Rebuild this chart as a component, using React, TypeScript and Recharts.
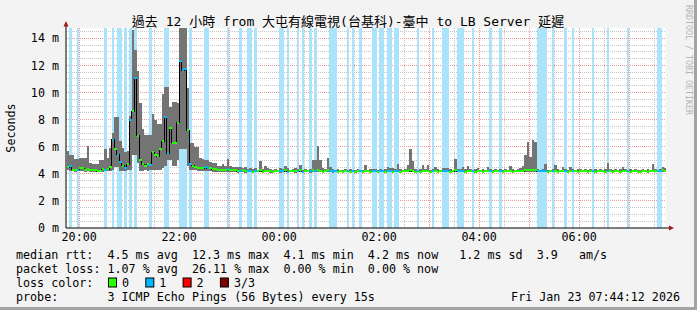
import { ComposedChart, Area, XAxis, YAxis, CartesianGrid } from 'recharts'

// SmokePing latency graph, 12h window, data in 3-minute bins starting 19:45
// one line per hour (20 bins)
const binMinutes = 3
const firstBinTime = '19:45'
const windowStartMin = -0.8 // graph starts at 19:44:12
const windowEndMin = 719.2

const timeTicks = ['20:00', '22:00', '00:00', '02:00', '04:00', '06:00']
const yTicks = [0, 2, 4, 6, 8, 10, 12, 14]
const yTop = 14.76

// smoke top (slowest ping), ms
const maxMs = [
  5.7, 5.4, 5.4, 5.1, 5.1, 5.2, 5.2, 5.2, 6.05, 4.8, 4.7, 4.7, 4.7, 5.0, 5.0, 5.8, 5.2, 5.9, 7.0, 8.2,
  8.2, 6.4, 5.9, 5.6, 5.7, 8.3, 14.6, 13.1, 11.6, 9.2, 7.3, 6.9, 6.9, 6.9, 8.4, 8.0, 7.7, 7.7, 9.9, 10.4,
  10.4, 8.9, 9.3, 9.3, 9.2, 14.76, 14.76, 14.76, 10.3, 6.3, 6.3, 6.0, 6.0, 5.2, 5.1, 5.0, 5.0, 4.9, 4.8, 4.8,
  4.6, 4.6, 4.7, 4.6, 5.1, 4.6, 4.5, 4.48, 4.48, 4.48, 4.4, 4.48, 4.35, 4.4, 4.35, 4.45, 4.3, 4.94, 4.35, 4.6,
  4.4, 4.35, 4.3, 4.35, 4.3, 4.4, 4.35, 4.55, 4.4, 4.3, 4.35, 4.4, 4.35, 4.65, 4.3, 4.35, 4.3, 4.35, 5.0, 5.0,
  6.05, 5.0, 4.4, 4.35, 5.19, 4.53, 4.35, 4.3, 4.35, 4.3, 4.3, 4.35, 4.3, 4.35, 4.3, 4.3, 4.35, 4.3, 4.3, 4.65,
  4.3, 4.35, 4.35, 4.35, 4.3, 4.35, 4.3, 4.35, 4.5, 4.4, 4.4, 4.35, 4.72, 4.35, 4.3, 4.35, 4.65, 5.83, 4.97, 4.35,
  4.3, 4.35, 4.65, 4.35, 4.65, 4.3, 4.35, 4.5, 4.35, 4.3, 4.4, 4.4, 4.4, 4.35, 4.3, 5.1, 4.35, 4.35, 4.53, 4.35,
  4.6, 4.35, 4.3, 4.35, 4.4, 4.3, 4.35, 4.3, 4.53, 4.35, 4.3, 4.35, 4.3, 4.35, 4.3, 4.35, 4.3, 4.6, 4.35, 4.3,
  4.35, 4.4, 4.55, 5.39, 6.37, 5.22, 6.5, 6.37, 4.35, 4.3, 4.35, 4.72, 4.3, 4.3, 4.35, 4.65, 4.35, 4.3, 4.53, 4.35,
  4.3, 4.48, 4.35, 4.3, 4.35, 4.35, 4.3, 4.35, 4.3, 4.35, 4.3, 4.35, 4.3, 4.35, 4.3, 4.35, 4.82, 4.35, 4.3, 4.35,
  4.3, 4.35, 4.48, 4.35, 4.3, 4.35, 4.3, 4.35, 4.3, 4.3, 4.35, 4.3, 4.35, 4.3, 4.7, 4.35, 4.3, 4.35, 4.53, 4.4,
]

// smoke bottom (fastest ping), ms
const minMs = [
  4.25, 4.2, 4.2, 4.15, 4.2, 4.2, 4.2, 4.15, 4.2, 4.15, 4.15, 4.1, 4.1, 4.15, 4.15, 4.2, 4.2, 4.2, 4.3, 4.5,
  4.5, 4.2, 4.2, 4.2, 4.25, 4.3, 5.4, 5.4, 4.8, 4.2, 4.2, 4.25, 4.2, 4.25, 4.25, 4.3, 4.3, 4.3, 4.4, 4.6,
  5.0, 5.0, 4.6, 4.6, 5.0, 5.8, 5.8, 5.8, 4.6, 4.3, 4.3, 4.25, 4.2, 4.2, 4.2, 4.2, 4.2, 4.2, 4.15, 4.15,
  4.15, 4.15, 4.1, 4.15, 4.15, 4.1, 4.1, 4.1, 4.05, 4.1, 4.1, 4.05, 4.1, 4.1, 4.05, 4.1, 4.1, 4.1, 4.05, 4.1,
  4.1, 4.05, 4.05, 4.1, 4.1, 4.05, 4.1, 4.1, 4.05, 4.1, 4.1, 4.05, 4.1, 4.1, 4.05, 4.1, 4.1, 4.05, 4.1, 4.1,
  4.15, 4.1, 4.05, 4.1, 4.1, 4.1, 4.05, 4.1, 4.05, 4.1, 4.05, 4.1, 4.1, 4.05, 4.1, 4.05, 4.1, 4.1, 4.05, 4.1,
  4.1, 4.05, 4.1, 4.1, 4.05, 4.1, 4.1, 4.05, 4.1, 4.1, 4.05, 4.1, 4.1, 4.05, 4.1, 4.1, 4.1, 4.15, 4.1, 4.05,
  4.1, 4.05, 4.1, 4.1, 4.1, 4.05, 4.1, 4.1, 4.05, 4.1, 4.1, 4.1, 4.1, 4.05, 4.1, 4.1, 4.1, 4.1, 4.1, 4.05,
  4.1, 4.1, 4.1, 4.05, 4.1, 4.1, 4.05, 4.1, 4.1, 4.1, 4.05, 4.1, 4.1, 4.1, 4.05, 4.1, 4.1, 4.1, 4.05, 4.1,
  4.1, 4.1, 4.1, 4.15, 4.15, 4.15, 4.15, 4.15, 4.1, 4.1, 4.1, 4.1, 4.05, 4.1, 4.1, 4.1, 4.05, 4.1, 4.1, 4.1,
  4.05, 4.1, 4.1, 4.1, 4.05, 4.1, 4.1, 4.1, 4.05, 4.1, 4.1, 4.05, 4.1, 4.1, 4.1, 4.05, 4.1, 4.1, 4.05, 4.1,
  4.1, 4.05, 4.1, 4.1, 4.1, 4.05, 4.1, 4.1, 4.05, 4.05, 4.1, 4.1, 4.05, 4.1, 4.1, 4.1, 4.1, 4.1, 4.15, 4.1,
]

// median rtt, ms
const medianMs = [
  4.5, 4.6, 4.3, 4.3, 4.3, 4.4, 4.4, 4.3, 4.35, 4.3, 4.3, 4.25, 4.2, 4.2, 4.35, 4.3, 4.35, 4.5, 6.5, 5.8,
  5.4, 4.9, 4.6, 4.45, 4.7, 8.0, 8.6, 11.1, 6.8, 5.0, 4.7, 4.6, 4.7, 4.65, 5.6, 5.4, 5.3, 5.8, 6.4, 8.2,
  5.5, 7.35, 6.3, 6.25, 7.75, 12.3, 11.65, 11.7, 7.2, 4.7, 4.6, 4.5, 4.45, 4.4, 4.4, 4.5, 4.4, 4.45, 4.35, 4.35,
  4.3, 4.3, 4.25, 4.3, 4.35, 4.25, 4.25, 4.25, 4.2, 4.2, 4.25, 4.2, 4.2, 4.2, 4.15, 4.2, 4.2, 4.25, 4.15, 4.2,
  4.2, 4.2, 4.15, 4.2, 4.2, 4.2, 4.2, 4.25, 4.15, 4.2, 4.2, 4.2, 4.2, 4.25, 4.15, 4.2, 4.2, 4.2, 4.25, 4.2,
  4.25, 4.2, 4.15, 4.2, 4.25, 4.2, 4.2, 4.2, 4.15, 4.2, 4.15, 4.2, 4.2, 4.15, 4.2, 4.15, 4.2, 4.2, 4.15, 4.2,
  4.2, 4.15, 4.2, 4.2, 4.15, 4.2, 4.2, 4.15, 4.2, 4.2, 4.15, 4.2, 4.2, 4.15, 4.2, 4.2, 4.2, 4.25, 4.2, 4.15,
  4.2, 4.15, 4.2, 4.2, 4.2, 4.15, 4.2, 4.2, 4.15, 4.2, 4.2, 4.2, 4.2, 4.15, 4.2, 4.25, 4.2, 4.2, 4.2, 4.15,
  4.2, 4.2, 4.2, 4.15, 4.2, 4.2, 4.15, 4.2, 4.2, 4.2, 4.15, 4.2, 4.2, 4.2, 4.15, 4.2, 4.2, 4.2, 4.15, 4.2,
  4.2, 4.2, 4.2, 4.25, 4.3, 4.25, 4.3, 4.25, 4.2, 4.2, 4.2, 4.2, 4.15, 4.2, 4.2, 4.2, 4.15, 4.2, 4.2, 4.2,
  4.15, 4.2, 4.2, 4.2, 4.15, 4.2, 4.2, 4.2, 4.15, 4.2, 4.2, 4.15, 4.2, 4.2, 4.2, 4.15, 4.2, 4.2, 4.15, 4.2,
  4.2, 4.15, 4.2, 4.2, 4.2, 4.15, 4.2, 4.2, 4.15, 4.15, 4.2, 4.2, 4.15, 4.2, 4.2, 4.2, 4.2, 4.2, 4.25, 4.2,
]

// lost pings per bin (0..3)
const lossCount = [
  0, 1, 0, 0, 1, 0, 0, 0, 0, 0, 0, 0, 0, 0, 0, 1, 0, 0, 1, 0,
  1, 1, 0, 1, 0, 1, 0, 1, 0, 0, 0, 0, 0, 1, 0, 0, 0, 0, 0, 1,
  1, 0, 0, 0, 0, 1, 1, 1, 0, 1, 0, 0, 0, 0, 0, 1, 1, 0, 0, 0,
  0, 0, 0, 0, 1, 0, 0, 0, 0, 1, 0, 0, 1, 1, 0, 1, 0, 0, 0, 0,
  0, 0, 0, 0, 0, 1, 1, 0, 1, 0, 0, 0, 1, 0, 1, 0, 0, 1, 0, 1,
  0, 0, 0, 0, 0, 1, 1, 1, 0, 0, 0, 0, 1, 0, 1, 0, 0, 1, 0, 0,
  0, 0, 1, 1, 0, 1, 1, 0, 1, 1, 0, 1, 1, 0, 0, 0, 0, 0, 0, 0,
  1, 0, 0, 0, 0, 0, 1, 0, 0, 0, 1, 1, 1, 0, 0, 0, 1, 1, 1, 0,
  0, 0, 1, 0, 0, 0, 0, 0, 0, 1, 0, 0, 0, 1, 0, 0, 0, 0, 0, 0,
  0, 0, 0, 0, 0, 0, 0, 0, 1, 1, 1, 1, 0, 0, 1, 0, 0, 0, 0, 1,
  0, 0, 1, 0, 0, 0, 0, 0, 0, 0, 1, 0, 0, 0, 0, 0, 1, 0, 0, 0,
  0, 0, 0, 0, 1, 0, 0, 0, 0, 0, 0, 0, 0, 0, 0, 0, 1, 1, 0, 0,
]

const lossColors = ['#26ff00', '#00b8ff', '#ff0000', '#7e0000']
const lossLabels = ['0', '1', '2', '3/3']
const bandColor = '#abe3fa'
const smokeColor = '#747474'

const W = 697
const H = 310
const MONO = "'DejaVu Sans Mono', 'Noto Sans CJK TC', monospace"
const FS = 11.7
const SEG = 0.075 // half thickness of the median line, ms

const toMin = (s: string) => {
  const [h, m] = s.split(':').map(Number)
  const [h0, m0] = firstBinTime.split(':').map(Number)
  return (h * 60 + m - h0 * 60 - m0 + 1440) % 1440
}
const tickMinutes = timeTicks.map(toMin)

// each bin becomes two rows (start and end) so every series is drawn as steps
const rows: any[] = []
medianMs.forEach((m, i) => {
  for (const t of [i * binMinutes, (i + 1) * binMinutes]) {
    const row: any = {
      t,
      band: lossCount[i] > 0 ? yTop : 0,
      smoke: [minMs[i], maxMs[i]],
      median: m,
    }
    lossColors.forEach((_, k) => {
      row['seg' + k] = lossCount[i] === k ? [m - SEG, m + SEG] : null
    })
    rows.push(row)
  }
})

const minorY: number[] = []
for (let v = 0.5; v < yTop; v += 0.5) if (v % 2 !== 0) minorY.push(v)
const majorY = yTicks.filter((v) => v > 0)
const hourMarks: number[] = []
const halfMarks: number[] = []
for (let t = toMin('20:00'); t < windowEndMin; t += 60) {
  hourMarks.push(t)
  if (t + 30 < windowEndMin) halfMarks.push(t + 30)
}

const legendRows = [
  'median rtt:  4.5 ms avg  12.3 ms max  4.1 ms min  4.2 ms now   1.2 ms sd  3.9   am/s',
  'packet loss: 1.07 % avg  26.11 % max  0.00 % min  0.00 % now',
  'loss color:',
  'probe:       3 ICMP Echo Pings (56 Bytes) every 15s',
]
const legendY = [254.5, 268.5, 282.5, 296.5]

export default function App() {
  const txt = { fontFamily: MONO, fontSize: FS, fill: '#000' }
  return (
    <div style={{ position: 'relative', width: W, height: H, background: '#f3f3f3', overflow: 'hidden' }}>
      <style>{'body{margin:0}'}</style>
      <ComposedChart width={W} height={H} data={rows} margin={{ top: 28, right: 31, bottom: 62, left: 0 }}>
        <CartesianGrid
          fill="#fff"
          stroke="#c6c6c6"
          strokeDasharray="1 1"
          shapeRendering="crispEdges"
          horizontalValues={minorY}
          verticalValues={halfMarks}
        />
        <CartesianGrid
          stroke="#ee9999"
          strokeDasharray="1 1"
          shapeRendering="crispEdges"
          horizontalValues={majorY}
          verticalValues={hourMarks}
        />
        <Area dataKey="band" fill={bandColor} fillOpacity={1} stroke="none" shapeRendering="crispEdges" dot={false} activeDot={false} isAnimationActive={false} />
        <Area dataKey="smoke" fill={smokeColor} fillOpacity={1} stroke="none" shapeRendering="crispEdges" dot={false} activeDot={false} isAnimationActive={false} />
        <Area dataKey="median" fill="none" stroke="#000" strokeWidth={1} shapeRendering="crispEdges" dot={false} activeDot={false} isAnimationActive={false} />
        {lossColors.map((c, k) => (
          <Area
            key={k}
            dataKey={'seg' + k}
            fill={c}
            fillOpacity={1}
            stroke="none"
            shapeRendering="crispEdges"
            dot={false}
            activeDot={false}
            isAnimationActive={false}
          />
        ))}
        <XAxis
          dataKey="t"
          type="number"
          domain={[windowStartMin, windowEndMin]}
          allowDataOverflow
          ticks={tickMinutes}
          interval={0}
          tickFormatter={(v: number) => timeTicks[tickMinutes.indexOf(v)] ?? ''}
          height={20}
          tickLine={false}
          tickSize={0}
          tickMargin={5}
          axisLine={{ stroke: '#000' }}
          tick={txt}
        />
        <YAxis
          type="number"
          domain={[0, yTop]}
          allowDataOverflow
          ticks={yTicks}
          interval={0}
          width={66}
          tickFormatter={(v: number) => `${v} m`}
          tickLine={false}
          tickSize={0}
          tickMargin={7}
          axisLine={{ stroke: '#000' }}
          tick={txt}
        />
      </ComposedChart>

      <svg width={W} height={H} style={{ position: 'absolute', left: 0, top: 0, pointerEvents: 'none' }}>
        <text x={348} y={21.5} textAnchor="middle" dominantBaseline="central" fontFamily={MONO} fontSize={13} fill="#000" xmlSpace="preserve">
          過去 12 小時 from 大屯有線電視(台基科)-臺中 to LB Server 延遲
        </text>
        <text
          x={10.5}
          y={128}
          transform="rotate(-90 10.5 128)"
          textAnchor="middle"
          dominantBaseline="central"
          fontFamily={MONO}
          fontSize={FS}
          fill="#000"
        >
          Seconds
        </text>
        <text
          x={688.5}
          y={60}
          transform="rotate(90 688.5 60)"
          textAnchor="middle"
          dominantBaseline="central"
          fontFamily={MONO}
          fontSize={8.3}
          fill="#b4b4b4"
        >
          RRDTOOL / TOBI OETIKER
        </text>

        {/* axis arrows */}
        <line x1={66} y1={28} x2={66} y2={25} stroke="#000" />
        <polygon points="63.5,26.5 68.5,26.5 66,21" fill="#a01818" />
        <line x1={666} y1={228} x2={670} y2={228} stroke="#000" />
        <polygon points="669,225.5 669,230.5 674,228" fill="#a01818" />

        {legendRows.map((s, i) => (
          <text key={i} x={16} y={legendY[i]} dominantBaseline="central" xmlSpace="preserve" style={{ whiteSpace: 'pre' }} {...txt}>
            {s}
          </text>
        ))}
        {lossColors.map((c, k) => (
          <g key={k}>
            <rect x={108.5 + k * 37.3} y={278} width={8} height={9} fill={c} stroke="#000" strokeWidth={1} />
            <text x={122 + k * 37.3} y={legendY[2]} dominantBaseline="central" {...txt}>
              {lossLabels[k]}
            </text>
          </g>
        ))}
        <text x={680} y={legendY[3]} textAnchor="end" dominantBaseline="central" {...txt}>
          Fri Jan 23 07:44:12 2026
        </text>

        {/* image frame */}
        <rect x={694} y={0} width={3} height={H} fill="#a3a3a3" />
        <rect x={0} y={307} width={W} height={3} fill="#a3a3a3" />
      </svg>
    </div>
  )
}
